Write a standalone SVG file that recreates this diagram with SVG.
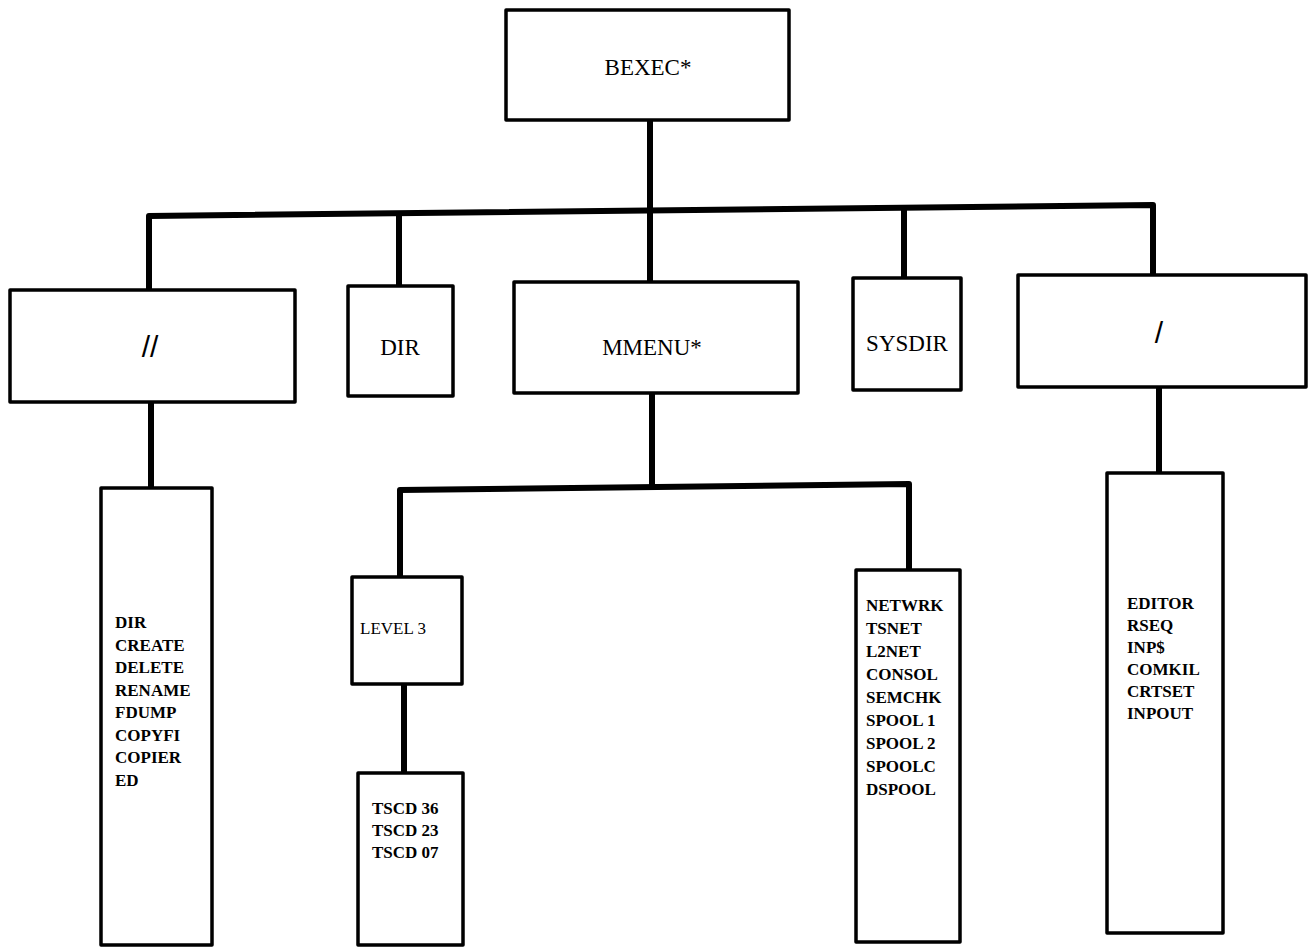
<svg xmlns="http://www.w3.org/2000/svg" width="1309" height="948" viewBox="0 0 1309 948">
<style>
.box{fill:#fff;stroke:#000;stroke-width:3.5;stroke-linejoin:round}
.conn{fill:none;stroke:#000;stroke-width:6;stroke-linejoin:round}
.lbl{font-family:"Liberation Serif",serif;font-size:23px;fill:#000;text-anchor:middle}
.sl{font-family:"Liberation Sans",sans-serif;font-size:30px;fill:#000;text-anchor:middle}
.lst{font-family:"Liberation Serif",serif;font-size:17px;font-weight:bold;fill:#000}
.lv{font-family:"Liberation Serif",serif;font-size:17px;fill:#000}
</style>
<rect width="1309" height="948" fill="#fff"/>
<g id="connectors">
<path class="conn" d="M650,120 V211"/>
<path class="conn" d="M149,290 V216 L1153,205 V275"/>
<path class="conn" d="M399,214 V286"/>
<path class="conn" d="M650,211 V282"/>
<path class="conn" d="M904,208 V278"/>
<path class="conn" d="M151,402 V488"/>
<path class="conn" d="M652,393 V487"/>
<path class="conn" d="M400,577 V490 L909,484 V570"/>
<path class="conn" d="M404,684 V773"/>
<path class="conn" d="M1159,387 V473"/>
</g>
<g id="bexec"><rect class="box" x="506" y="10" width="283" height="110"/><text class="lbl" x="648" y="75">BEXEC*</text></g>
<g id="slashslash"><rect class="box" x="10" y="290" width="285" height="112"/><text class="sl" x="150" y="357">//</text></g>
<g id="dir"><rect class="box" x="348" y="286" width="105" height="110"/><text class="lbl" x="400" y="355">DIR</text></g>
<g id="mmenu"><rect class="box" x="514" y="282" width="284" height="111"/><text class="lbl" x="652" y="355">MMENU*</text></g>
<g id="sysdir"><rect class="box" x="853" y="278" width="108" height="112"/><text class="lbl" x="907" y="351">SYSDIR</text></g>
<g id="slash"><rect class="box" x="1018" y="275" width="288" height="112"/><text class="sl" x="1159" y="343">/</text></g>
<g id="list1"><rect class="box" x="101" y="488" width="111" height="457"/>
<text class="lst" x="115" y="628"><tspan x="115">DIR</tspan><tspan x="115" dy="22.5">CREATE</tspan><tspan x="115" dy="22.5">DELETE</tspan><tspan x="115" dy="22.5">RENAME</tspan><tspan x="115" dy="22.5">FDUMP</tspan><tspan x="115" dy="22.5">COPYFI</tspan><tspan x="115" dy="22.5">COPIER</tspan><tspan x="115" dy="22.5">ED</tspan></text></g>
<g id="level3"><rect class="box" x="352" y="577" width="110" height="107"/><text class="lv" x="360" y="634">LEVEL 3</text></g>
<g id="tscd"><rect class="box" x="358" y="773" width="105" height="172"/>
<text class="lst" x="372" y="814"><tspan x="372">TSCD 36</tspan><tspan x="372" dy="22">TSCD 23</tspan><tspan x="372" dy="22">TSCD 07</tspan></text></g>
<g id="netwrk"><rect class="box" x="856" y="570" width="104" height="372"/>
<text class="lst" x="866" y="611"><tspan x="866">NETWRK</tspan><tspan x="866" dy="23">TSNET</tspan><tspan x="866" dy="23">L2NET</tspan><tspan x="866" dy="23">CONSOL</tspan><tspan x="866" dy="23">SEMCHK</tspan><tspan x="866" dy="23">SPOOL 1</tspan><tspan x="866" dy="23">SPOOL 2</tspan><tspan x="866" dy="23">SPOOLC</tspan><tspan x="866" dy="23">DSPOOL</tspan></text></g>
<g id="editor"><rect class="box" x="1107" y="473" width="116" height="460"/>
<text class="lst" x="1127" y="609"><tspan x="1127">EDITOR</tspan><tspan x="1127" dy="22">RSEQ</tspan><tspan x="1127" dy="22">INP$</tspan><tspan x="1127" dy="22">COMKIL</tspan><tspan x="1127" dy="22">CRTSET</tspan><tspan x="1127" dy="22">INPOUT</tspan></text></g>
</svg>
